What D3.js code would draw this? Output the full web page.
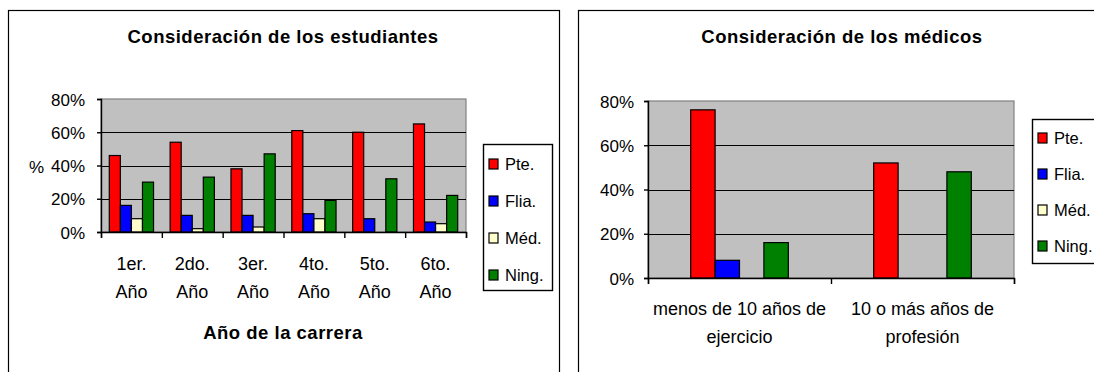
<!DOCTYPE html>
<html>
<head>
<meta charset="utf-8">
<script src="https://cdn.jsdelivr.net/npm/d3@7"></script>
<style>
  body { margin: 0; background: #fff; }
  svg text { font-family: Arial, "Liberation Sans", sans-serif; fill: #000; }
</style>
</head>
<body>
<div id="chart"></div>
<script>
"use strict";
// series shared by both charts
var seriesNames = ["Pte.", "Flia.", "Méd.", "Ning."];
var seriesColors = ["#ff0000", "#0000ff", "#ffffcc", "#008000"];

// students chart (percent)
var yearLabels = [["1er.", "Año"], ["2do.", "Año"], ["3er.", "Año"], ["4to.", "Año"], ["5to.", "Año"], ["6to.", "Año"]];
var estPte = [46, 54, 38, 61, 60, 65];
var estFlia = [16, 10, 10, 11, 8, 6];
var estMed = [8, 2, 3, 8, 0, 5];
var estNing = [30, 33, 47, 19, 32, 22];

// doctors chart (percent)
var expLabels = [["menos de 10 años de", "ejercicio"], ["10 o más años de", "profesión"]];
var medPte = [76, 52];
var medFlia = [8, 0];
var medMed = [0, 0];
var medNing = [16, 48];

var yTicks = [0, 20, 40, 60, 80];

var svg = d3.select("#chart").append("svg")
    .attr("width", 1094)
    .attr("height", 372);

// panel frames (cut off at the bottom like the source)
svg.append("rect").attr("x", 8.5).attr("y", 10.5).attr("width", 551).attr("height", 420)
    .attr("fill", "none").attr("stroke", "#000").attr("stroke-width", 1.2);
svg.append("rect").attr("x", 578.5).attr("y", 10.5).attr("width", 600).attr("height", 420)
    .attr("fill", "none").attr("stroke", "#000").attr("stroke-width", 1.2);

function drawChart(cfg) {
    var g = svg.append("g");
    var x = d3.scaleBand().domain(d3.range(cfg.labels.length)).range([cfg.left, cfg.right]);
    var y = d3.scaleLinear().domain([0, 80]).range([cfg.bottom, cfg.top]);
    var barW = x.bandwidth() / (seriesNames.length + cfg.gap);
    var inner = d3.scaleBand().domain(d3.range(seriesNames.length))
        .range([barW * cfg.gap / 2, barW * cfg.gap / 2 + barW * seriesNames.length]);

    // plot area
    g.append("rect")
        .attr("x", cfg.left).attr("y", cfg.top)
        .attr("width", cfg.right - cfg.left).attr("height", cfg.bottom - cfg.top)
        .attr("fill", "#c0c0c0").attr("stroke", "#808080").attr("stroke-width", 1.2);

    // gridlines
    g.append("g").selectAll("line")
        .data(yTicks.filter(function (t) { return t > 0 && t < 80; }))
        .enter().append("line")
        .attr("x1", cfg.left).attr("x2", cfg.right)
        .attr("y1", function (t) { return Math.round(y(t)) + 0.5; })
        .attr("y2", function (t) { return Math.round(y(t)) + 0.5; })
        .attr("stroke", "#000").attr("stroke-width", 1.2);

    // bars
    cfg.values.forEach(function (vals, s) {
        g.append("g").selectAll("rect")
            .data(vals.map(function (v, i) { return { v: v, i: i }; }).filter(function (d) { return d.v > 0; }))
            .enter().append("rect")
            .attr("x", function (d) { return x(d.i) + inner(s); })
            .attr("y", function (d) { return y(d.v); })
            .attr("width", barW)
            .attr("height", function (d) { return cfg.bottom - y(d.v); })
            .attr("fill", seriesColors[s])
            .attr("stroke", "#000").attr("stroke-width", 1.2);
    });

    // y axis
    var yAxis = g.append("g")
        .attr("transform", "translate(" + cfg.left + ",0)")
        .call(d3.axisLeft(y).tickValues(yTicks).tickSize(cfg.tick).tickPadding(cfg.pad)
            .tickFormat(function (t) { return t + "%"; }));
    yAxis.select(".domain").attr("stroke", "#000").attr("stroke-width", 1.4);
    yAxis.selectAll(".tick line").attr("stroke", "#000").attr("stroke-width", 1.4);
    yAxis.selectAll(".tick text").style("font-size", "17px").attr("dy", "0.36em");

    // x axis with boundary ticks
    var xb = d3.scaleLinear().domain([0, cfg.labels.length]).range([cfg.left, cfg.right]);
    var xAxis = g.append("g")
        .attr("transform", "translate(0," + cfg.bottom + ")")
        .call(d3.axisBottom(xb).ticks(cfg.labels.length).tickSize(6).tickSizeOuter(6).tickFormat(""));
    xAxis.select(".domain").attr("stroke", "#000").attr("stroke-width", 1.4);
    xAxis.selectAll(".tick line").attr("stroke", "#000").attr("stroke-width", 1.4);

    // category labels
    var lab = g.append("g").selectAll("text")
        .data(cfg.labels)
        .enter().append("text")
        .attr("text-anchor", "middle")
        .style("font-size", cfg.catSize + "px");
    lab.each(function (lines, i) {
        var t = d3.select(this);
        lines.forEach(function (line, k) {
            t.append("tspan")
                .attr("x", x(i) + x.bandwidth() / 2)
                .attr("y", cfg.bottom + cfg.labelY + k * 28)
                .text(line);
        });
    });

    // title
    g.append("text")
        .attr("x", cfg.titleX).attr("y", 43)
        .attr("text-anchor", "middle")
        .style("font-size", "18.5px").style("font-weight", "bold")
        .style("letter-spacing", "0.5px")
        .text(cfg.title);

    // legend
    var lg = g.append("g").attr("transform", "translate(" + cfg.legX + "," + cfg.legY + ")");
    lg.append("rect").attr("x", 0.5).attr("y", 0.5).attr("width", cfg.legW).attr("height", cfg.legH)
        .attr("fill", "#fff").attr("stroke", "#000").attr("stroke-width", 1.4);
    var items = lg.selectAll("g.item").data(seriesNames).enter().append("g")
        .attr("class", "item")
        .attr("transform", function (d, i) { return "translate(6," + (cfg.legFirst + i * cfg.legStep) + ")"; });
    items.append("rect").attr("x", 0).attr("y", -5).attr("width", 9).attr("height", 10)
        .attr("fill", function (d, i) { return seriesColors[i]; })
        .attr("stroke", "#000").attr("stroke-width", 1.2);
    items.append("text").attr("x", 16).attr("dy", "0.36em")
        .style("font-size", "16.5px")
        .text(function (d) { return d; });
    return g;
}

var left = drawChart({
    labels: yearLabels,
    values: [estPte, estFlia, estMed, estNing],
    left: 101, right: 466, top: 99, bottom: 232,
    gap: 1.5, tick: 4, pad: 12, catSize: 18, labelY: 38,
    title: "Consideración de los estudiantes", titleX: 283,
    legX: 483, legY: 144, legW: 69, legH: 146, legFirst: 20, legStep: 37
});
left.append("text").attr("x", 29).attr("y", 167).attr("dy", "0.36em")
    .style("font-size", "17px").text("%");
left.append("text").attr("x", 283).attr("y", 339).attr("text-anchor", "middle")
    .style("font-size", "18.5px").style("font-weight", "bold").style("letter-spacing", "0.5px")
    .text("Año de la carrera");

drawChart({
    labels: expLabels,
    values: [medPte, medFlia, medMed, medNing],
    left: 648, right: 1014, top: 101, bottom: 278,
    gap: 3.5, tick: 4, pad: 10, catSize: 18, labelY: 37,
    title: "Consideración de los médicos", titleX: 842,
    legX: 1032, legY: 119, legW: 80, legH: 144, legFirst: 19, legStep: 36
});
</script>
</body>
</html>
